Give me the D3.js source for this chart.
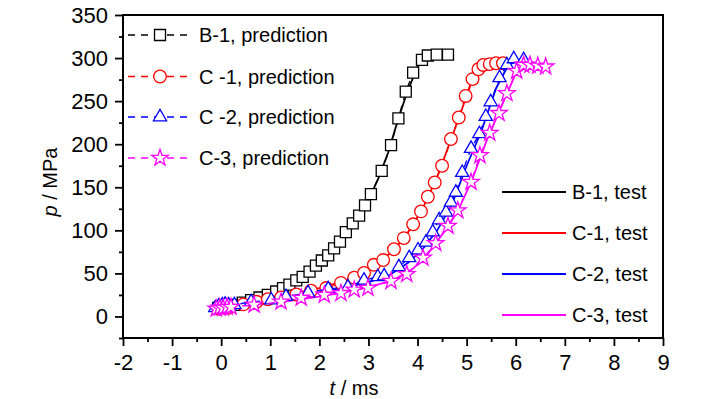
<!DOCTYPE html>
<meta charset="utf-8">
<style>
	body { margin:0; background:#fff; }
	svg { font-family: "Liberation Sans", Arial, sans-serif; }
</style>
<script src="https://d3js.org/d3.v7.min.js"></script>
<body>
<svg id="chart" width="728" height="399"></svg>
<script>
// axis ticks
var xTickValues = [-2, -1, 0, 1, 2, 3, 4, 5, 6, 7, 8, 9];
var yTickValues = [0, 50, 100, 150, 200, 250, 300, 350];

// predictions (t in ms, p in MPa)
var b1PredT = [-0.06, 0.10, 0.27, 0.44, 0.61, 0.78, 0.95, 1.12, 1.26, 1.39, 1.53, 1.66, 1.80, 1.93, 2.05, 2.18, 2.30, 2.42, 2.54, 2.68, 2.81, 2.93, 3.05, 3.27, 3.46, 3.61, 3.76, 3.91, 4.09, 4.21, 4.39, 4.62];
var b1PredP = [10, 11.5, 13.5, 16, 19, 22, 25, 29, 33, 37, 42, 46, 52, 59, 65, 71, 79, 87, 98, 108, 117, 129, 142, 169, 199, 230, 261, 283, 298, 303, 304, 304];

var c1PredT = [-0.05, 0.15, 0.45, 0.72, 0.95, 1.22, 1.53, 1.83, 2.14, 2.44, 2.71, 2.91, 3.11, 3.30, 3.52, 3.72, 3.91, 4.07, 4.21, 4.35, 4.50, 4.68, 4.84, 4.98, 5.12, 5.24, 5.34, 5.47, 5.60, 5.74];
var c1PredP = [9, 10, 14, 17, 20, 22, 25.5, 30, 33, 39, 45, 50.5, 60, 65.5, 78, 91, 107, 122, 139, 155.5, 175, 206, 231, 256, 275.6, 287, 292, 293, 294, 294];

var c2PredT = [-0.12, -0.05, 0.02, 0.08, 0.15, 0.27, 0.61, 1.02, 1.32, 1.77, 2.18, 2.58, 2.91, 3.19, 3.32, 3.62, 3.83, 4.01, 4.17, 4.31, 4.44, 4.58, 4.68, 4.78, 4.91, 5.09, 5.26, 5.39, 5.49, 5.67, 5.82, 5.96, 6.16];
var c2PredP = [10, 12, 13, 14, 13, 13.5, 17, 19, 23, 27.5, 32, 34, 42, 46, 47, 57.5, 68, 77, 86, 98, 112, 121, 132.5, 144, 167, 195, 212, 232, 249, 277, 292, 299, 298];

var c3PredT = [-0.10, -0.03, 0.04, 0.12, 0.20, 0.67, 1.22, 1.63, 2.10, 2.44, 2.71, 2.99, 3.46, 3.78, 4.11, 4.37, 4.62, 4.82, 5.09, 5.27, 5.47, 5.66, 5.82, 6.02, 6.16, 6.29, 6.45, 6.61];
var c3PredP = [9, 10, 10, 11, 11, 13.5, 17, 21.5, 25, 27, 31, 33, 41, 49, 68, 85, 105, 123, 156, 187, 213, 236, 259, 285, 292, 292, 291, 290];

// tests
var b1TestT = [-0.05, 0.3, 0.7, 1.1, 1.5, 1.9, 2.2, 2.5, 2.8, 3.0, 3.2, 3.4, 3.6, 3.8, 4.0, 4.15, 4.3];
var b1TestP = [11, 14, 20, 28, 40, 55, 70, 90, 115, 135, 160, 190, 228, 262, 290, 300, 303];

var c1TestT = [-0.05, 0.5, 1.0, 1.5, 2.0, 2.5, 2.9, 3.2, 3.5, 3.8, 4.1, 4.4, 4.7, 4.9, 5.1, 5.3, 5.5];
var c1TestP = [10, 16, 21, 27, 33, 41, 50, 62, 76, 97, 125, 162, 208, 240, 272, 290, 294];

var c2TestT = [-0.1, 0.5, 1.0, 1.5, 2.0, 2.5, 3.0, 3.4, 3.8, 4.1, 4.4, 4.7, 5.0, 5.3, 5.6, 5.85, 6.05];
var c2TestP = [10, 14, 18, 23, 28, 33, 40, 47, 62, 78, 100, 130, 175, 215, 265, 292, 297];

var c3TestT = [-0.1, 0.5, 1.0, 1.5, 2.0, 2.5, 3.0, 3.5, 3.9, 4.2, 4.5, 4.8, 5.1, 5.4, 5.7, 6.0, 6.2];
var c3TestP = [8, 12, 15, 19, 23, 28, 34, 42, 55, 72, 95, 120, 157, 203, 243, 282, 291];

var predLabels = ["B-1, prediction", "C -1, prediction", "C -2, prediction", "C-3, prediction"];
var testLabels = ["B-1, test", "C-1, test", "C-2, test", "C-3, test"];
var colors = ["#000000", "#ff0000", "#0000ff", "#ff00ff"];
var symbols = [
	d3.symbol(d3.symbolSquare, 121),
	d3.symbol(d3.symbolCircle, 125),
	d3.symbol(d3.symbolTriangle, 75),
	d3.symbol(d3.symbolStar, 85)
];

function zip(t, p) { return t.map(function(d, i) { return [d, p[i]]; }); }
var preds = [zip(b1PredT, b1PredP), zip(c1PredT, c1PredP), zip(c2PredT, c2PredP), zip(c3PredT, c3PredP)];
var tests = [zip(b1TestT, b1TestP), zip(c1TestT, c1TestP), zip(c2TestT, c2TestP), zip(c3TestT, c3TestP)];

var width = 728, height = 399;
var margin = {top: 15, right: 65, bottom: 61, left: 123};
var svg = d3.select("#chart");

var x = d3.scaleLinear().domain([-2, 9]).range([margin.left, width - margin.right]);
var y = d3.scaleLinear().domain([-25, 350]).range([height - margin.bottom, margin.top]);

// minor ticks
svg.append("g")
	.attr("transform", "translate(0," + (height - margin.bottom) + ")")
	.call(d3.axisBottom(x).tickValues(d3.range(-1.5, 9, 1)).tickSize(4).tickFormat(""));
svg.append("g")
	.attr("transform", "translate(" + margin.left + ",0)")
	.call(d3.axisLeft(y).tickValues(d3.range(-25, 350, 50)).tickSize(4).tickFormat(""));

// major ticks, plain hyphen for negatives
svg.append("g")
	.attr("transform", "translate(0," + (height - margin.bottom) + ")")
	.call(d3.axisBottom(x).tickValues(xTickValues).tickSize(8).tickPadding(8)
		.tickFormat(function(d) { return String(d); }));
svg.append("g")
	.attr("transform", "translate(" + margin.left + ",0)")
	.call(d3.axisLeft(y).tickValues(yTickValues).tickSize(8).tickPadding(7)
		.tickFormat(function(d) { return String(d); }));

svg.selectAll(".domain").remove();
svg.selectAll(".tick line").attr("stroke", "#000").attr("stroke-width", 1.8);
svg.selectAll(".tick text")
	.attr("font-size", 22)
	.attr("font-family", "'Liberation Sans', Arial, sans-serif")
	.attr("fill", "#000");

// frame
svg.append("rect")
	.attr("x", margin.left)
	.attr("y", margin.top)
	.attr("width", width - margin.left - margin.right)
	.attr("height", height - margin.top - margin.bottom)
	.attr("fill", "none")
	.attr("stroke", "#000")
	.attr("stroke-width", 2);

var line = d3.line().x(function(d) { return x(d[0]); }).y(function(d) { return y(d[1]); });

// test curves
tests.forEach(function(s, i) {
	svg.append("path")
		.attr("d", line(s))
		.attr("fill", "none")
		.attr("stroke", colors[i])
		.attr("stroke-width", 1.8);
});

// predictions: dashed line + hollow markers
preds.forEach(function(s, i) {
	svg.append("path")
		.attr("d", line(s))
		.attr("fill", "none")
		.attr("stroke", colors[i])
		.attr("stroke-width", 1.3)
		.attr("stroke-dasharray", "7,6");
	svg.append("g").selectAll("path")
		.data(s)
		.enter().append("path")
		.attr("d", symbols[i])
		.attr("transform", function(d) { return "translate(" + x(d[0]) + "," + y(d[1]) + ")"; })
		.attr("fill", "#fff")
		.attr("stroke", colors[i])
		.attr("stroke-width", 1.3);
});

// legend, predictions
var predRowY = [35, 76.5, 117, 158];
predLabels.forEach(function(label, i) {
	var g = svg.append("g").attr("transform", "translate(0," + predRowY[i] + ")");
	g.append("line")
		.attr("x1", 128).attr("x2", 192)
		.attr("stroke", colors[i])
		.attr("stroke-width", 1.5)
		.attr("stroke-dasharray", "7,6");
	g.append("path")
		.attr("d", symbols[i])
		.attr("transform", "translate(160,0)")
		.attr("fill", "#fff")
		.attr("stroke", colors[i])
		.attr("stroke-width", 1.3);
	g.append("text")
		.attr("x", 199)
		.attr("dy", "0.36em")
		.attr("font-size", 20)
		.text(label);
});

// legend, tests
var testRowY = [192, 233, 274, 315];
testLabels.forEach(function(label, i) {
	var g = svg.append("g").attr("transform", "translate(0," + testRowY[i] + ")");
	g.append("line")
		.attr("x1", 502).attr("x2", 566)
		.attr("stroke", colors[i])
		.attr("stroke-width", 1.8);
	g.append("text")
		.attr("x", 572)
		.attr("dy", "0.36em")
		.attr("font-size", 20)
		.text(label);
});

// axis titles
var xt = svg.append("text")
	.attr("x", 354)
	.attr("y", 395)
	.attr("text-anchor", "middle")
	.attr("font-size", 20);
xt.append("tspan").attr("font-style", "italic").text("t");
xt.append("tspan").text(" / ms");

var yt = svg.append("text")
	.attr("transform", "translate(57,182) rotate(-90)")
	.attr("text-anchor", "middle")
	.attr("font-size", 20);
yt.append("tspan").attr("font-style", "italic").text("p");
yt.append("tspan").text(" / MPa");
</script>
</body>
